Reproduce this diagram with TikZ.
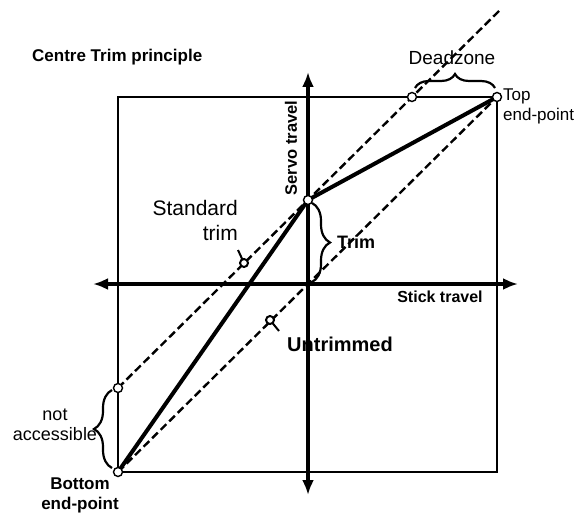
\documentclass[tikz,border=0pt]{standalone}
\usepackage{fontspec}
\setmainfont{Liberation Sans}
\usetikzlibrary{arrows.meta, positioning, calc, decorations.pathreplacing}
\tikzset{
	axis/.style={line width=3.5pt, {Latex[length=15pt,width=12pt]}-{Latex[length=15pt,width=12pt]}},
	frame/.style={line width=1.5pt},
	curve/.style={line width=4pt, line cap=round},
	ref/.style={line width=2.4pt, dash pattern=on 8pt off 4pt},
	pt/.style={circle, draw, fill=white, line width=1.4pt, inner sep=0pt, minimum size=9pt},
	pointer/.style={circle, draw, fill=white, line width=2pt, inner sep=0pt, minimum size=8pt},
	brace/.style={decorate, decoration={brace, amplitude=#1}, line width=2.2pt},
	lbl/.style={inner sep=0pt, align=center, font=\fontsize{#1}{20}\selectfont}
}

\begin{document}
\begin{tikzpicture}[x=1pt, y=-1pt]
		\useasboundingbox (0,0) rectangle (585,513);
		% box and axes
		\draw[frame] (118,97) rectangle (497,472);
		\coordinate (O) at (308,284);
		\draw[axis] (93,284) -- (518,284);
		\draw[axis] (308,495) -- (308,72);
		% end-points and trim point
		\coordinate (bot) at (118,472);
		\coordinate (top) at (497,97);
		\coordinate (mid) at (308,200);
		\coordinate (dz) at (412,97);
		\coordinate (na) at (118,388);
		\coordinate (far) at (500,10);
		\draw[ref] (bot) -- (top);
		\draw[ref] (na) -- (far);
		\draw[curve] (bot) -- (mid) -- (top);
		\foreach \p in {bot, top, mid, dz, na}
			\node[pt] at (\p) {};
		% label pointers
		\draw[line width=2pt] (244,263) -- (238,250);
		\node[pointer] (ps) at (244,263) {};
		\draw[line width=2pt] (270,320) -- (279,331);
		\node[pointer] (pu) at (270,320) {};
		% braces
		\draw[brace=14pt] (415,88) -- (495,88);
		\draw[brace=18pt] (312,203) -- (312,282);
		\draw[brace=18pt] (112,468) -- (112,390);
		% labels
		\node[lbl=17, font=\fontsize{17}{20}\selectfont\bfseries, anchor=west] (title) at (32,57) {Centre Trim principle};
		\node[lbl=19] (dzl) at (452,58) {Deadzone};
		\node[lbl=17, anchor=north west, align=left] (topl) at (503,89) {Top\\end-point};
		\node[lbl=16.5, font=\fontsize{16.5}{20}\selectfont\bfseries, rotate=90] (servo) at (291,148) {Servo travel};
		\node[lbl=21, font=\fontsize{21}{25}\selectfont, anchor=north east, align=right] (std) at (238,200) {Standard\\trim};
		\node[lbl=18, font=\fontsize{18}{20}\selectfont\bfseries, anchor=west] (triml) at (337,242) {Trim};
		\node[lbl=16, font=\fontsize{16}{20}\selectfont\bfseries] (stick) at (440,297) {Stick travel};
		\node[lbl=20, font=\fontsize{20}{22}\selectfont\bfseries] (untr) at (340,344) {Untrimmed};
		\node[lbl=18] (nal) at (55,425) {not\\accessible};
		\node[lbl=17, font=\fontsize{17}{20}\selectfont\bfseries, anchor=north] (botl) at (80,478) {Bottom\\end-point};
\end{tikzpicture}
\end{document}
